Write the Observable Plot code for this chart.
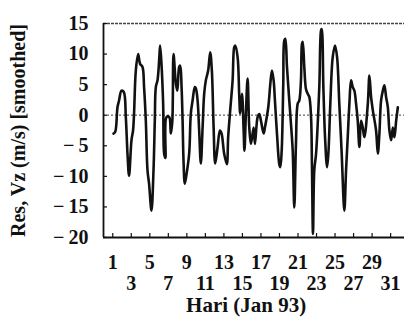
<!DOCTYPE html>
<html>
<head>
<meta charset="utf-8">
<script src="https://cdn.jsdelivr.net/npm/d3@7"></script>
<script src="https://cdn.jsdelivr.net/npm/@observablehq/plot@0.6"></script>
<style>
  html, body { margin: 0; padding: 0; background: #fff; }
  #chart { width: 404px; height: 329px; overflow: hidden; }
</style>
</head>
<body>
<div id="chart"></div>
<script>
// Day of January 1993 (fractional)
const days = [
  1.08, 1.27, 1.51, 1.68, 1.94, 2.19, 2.41, 2.59, 2.76, 3.02, 3.19, 3.30, 3.49, 3.74, 3.95,
  4.21, 4.38, 4.57, 4.75, 4.92, 5.18, 5.40, 5.54, 5.65, 5.83, 6.01, 6.11, 6.26, 6.44, 6.55,
  6.68, 6.81, 7.09, 7.27, 7.43, 7.56, 7.81, 7.97, 8.17, 8.28, 8.43, 8.54, 8.64, 8.78, 8.97,
  9.25, 9.43, 9.62, 9.86, 9.97, 10.16, 10.33, 10.51, 10.70, 10.87, 11.05, 11.30, 11.52, 11.70, 11.89,
  12.06, 12.32, 12.57, 12.75, 13.03, 13.32, 13.46, 13.68, 13.94, 14.11, 14.22, 14.48, 14.65, 14.76, 14.95,
  15.13, 15.22, 15.38, 15.56, 15.74, 15.92, 16.21, 16.35, 16.64, 16.82, 17.00, 17.29, 17.43, 17.79, 18.01,
  18.19, 18.37, 18.51, 18.73, 18.98, 19.09, 19.24, 19.41, 19.52, 19.63, 19.81, 20.06, 20.24, 20.43, 20.60,
  20.78, 20.97, 21.14, 21.32, 21.43, 21.51, 21.68, 21.86, 22.05, 22.22, 22.41, 22.51, 22.62, 22.76, 22.95,
  23.30, 23.49, 23.56, 23.74, 23.92, 24.14, 24.28, 24.49, 24.75, 25.00, 25.22, 25.46, 25.72, 25.94, 26.01,
  26.19, 26.37, 26.55, 26.73, 26.91, 27.09, 27.27, 27.45, 27.63, 27.81, 27.99, 28.17, 28.54, 28.71, 28.89,
  29.08, 29.43, 29.62, 29.79, 29.97, 30.16, 30.33, 30.51, 30.70, 30.87, 31.06, 31.24, 31.41, 31.60, 31.78
];
// Residual vertical velocity Vz (m/s), smoothed
const vz = [
  -3.0, -2.7, 1.3, 2.4, 4.0, 3.8, -0.3, -6.3, -9.9, -4.1, -2.5, 0.3, 7.3, 10.0, 8.4,
  7.9, 4.6, -0.9, -9.0, -11.2, -15.6, -9.0, -0.9, 4.6, 5.7, 9.0, 11.4, 8.4, 1.9, -6.3,
  -7.0, -0.3, -0.3, -3.0, -1.0, 10.0, 5.2, 4.0, 7.9, 8.1, 4.6, -0.9, -7.4, -11.2, -9.6,
  -6.3, 0.3, 2.4, 4.6, 4.4, 2.4, -2.5, -7.9, -2.0, 3.5, 5.7, 7.3, 10.3, 7.3, -2.0,
  -7.9, -5.2, -2.5, -3.0, -6.3, -8.0, -3.6, 0.8, 5.7, 11.1, 11.4, 9.5, 3.5, 0.3, 3.5,
  -2.5, -5.8, 0.5, 6.0, -2.0, -4.7, -2.0, -4.7, -0.3, 0.2, -0.9, -3.0, -2.0, 1.3, 5.1,
  7.3, 5.7, 2.4, -3.0, -8.0, -8.5, -5.8, 5.1, 12.2, 12.5, 7.9, 2.4, -1.4, -5.8, -15.1,
  -4.7, 1.9, 2.4, 5.7, 11.7, 12.0, 7.9, 4.3, 3.5, 3.0, -0.3, -8.5, -19.4, -9.0, -6.3,
  4.6, 13.9, 14.1, 4.6, -3.6, -8.5, -6.3, 1.9, 9.5, 11.4, 9.5, 1.9, -6.3, -14.5, -15.6,
  -9.0, -3.6, 1.9, 5.7, 4.6, 4.0, 1.9, -0.9, -5.2, -0.9, -2.0, -3.6, 1.9, 6.5, 3.0,
  0.8, -2.5, -6.3, -3.0, 2.4, 4.0, 4.9, 3.0, 1.3, -2.5, -4.1, -2.0, -3.6, -0.9, 1.3
];
const yTicks = [-20, -15, -10, -5, 0, 5, 10, 15];
const xTicksRow1 = [1, 5, 9, 13, 17, 21, 25, 29];
const xTicksRow2 = [3, 7, 11, 15, 19, 23, 27, 31];
const xTickMarks = [1, 3, 5, 7, 9, 11, 13, 15, 17, 19, 21, 23, 25, 27, 29, 31];
const xTitle = "Hari (Jan 93)";
const yTitle = "Res, Vz (m/s) [smoothed]";

const data = days.map((d, i) => ({day: d, v: vz[i]}));
const fmt = d => d < 0 ? "\u2212\u2009" + Math.abs(d) : String(d);

const chart = Plot.plot({
  width: 404,
  height: 329,
  marginLeft: 103,
  marginRight: 0,
  marginTop: 23,
  marginBottom: 92,
  style: {fontFamily: "'Liberation Serif', 'DejaVu Serif', serif", fontSize: "20px", fontWeight: "bold", color: "#111", background: "#fff"},
  x: {domain: [0, 32.5], axis: null},
  y: {domain: [-20, 15], axis: null},
  marks: [
    Plot.ruleY([0], {stroke: "#666", strokeWidth: 1.2, strokeDasharray: "2,2"}),
    Plot.ruleY([15], {stroke: "#444", strokeWidth: 1.4, strokeDasharray: "3,1"}),
    Plot.ruleY([-20], {stroke: "#111", strokeWidth: 2.2}),
    Plot.ruleX([0], {stroke: "#111", strokeWidth: 1.8}),
    Plot.tickY(yTicks, {y: d => d, insetRight: 297, stroke: "#111", strokeWidth: 1.2}),
    Plot.tickX(xTickMarks, {x: d => d, insetTop: 210, stroke: "#111", strokeWidth: 1.2}),
    Plot.text(yTicks, {y: d => d, frameAnchor: "left", textAnchor: "end", dx: -15, text: fmt, fill: "#111", fontSize: 20}),
    Plot.text(xTicksRow1, {x: d => d, frameAnchor: "bottom", dy: 25, lineAnchor: "middle", text: d => String(d), fill: "#111", fontSize: 20}),
    Plot.text(xTicksRow2, {x: d => d, frameAnchor: "bottom", dy: 46, lineAnchor: "middle", text: d => String(d), fill: "#111", fontSize: 20}),
    Plot.text([xTitle], {frameAnchor: "bottom", dy: 68, x: () => 15.4, lineAnchor: "middle", text: d => d, fill: "#111", fontSize: 21, letterSpacing: 2.5}),
    Plot.text([yTitle], {frameAnchor: "left", textAnchor: "middle", dx: -85, rotate: -90, lineAnchor: "middle", text: d => d, fill: "#111", fontSize: 20, letterSpacing: 1}),
    Plot.line(data, {x: "day", y: "v", stroke: "#111", strokeWidth: 2.6, curve: "catmull-rom"})
  ]
});
document.getElementById("chart").appendChild(chart);
</script>
</body>
</html>
